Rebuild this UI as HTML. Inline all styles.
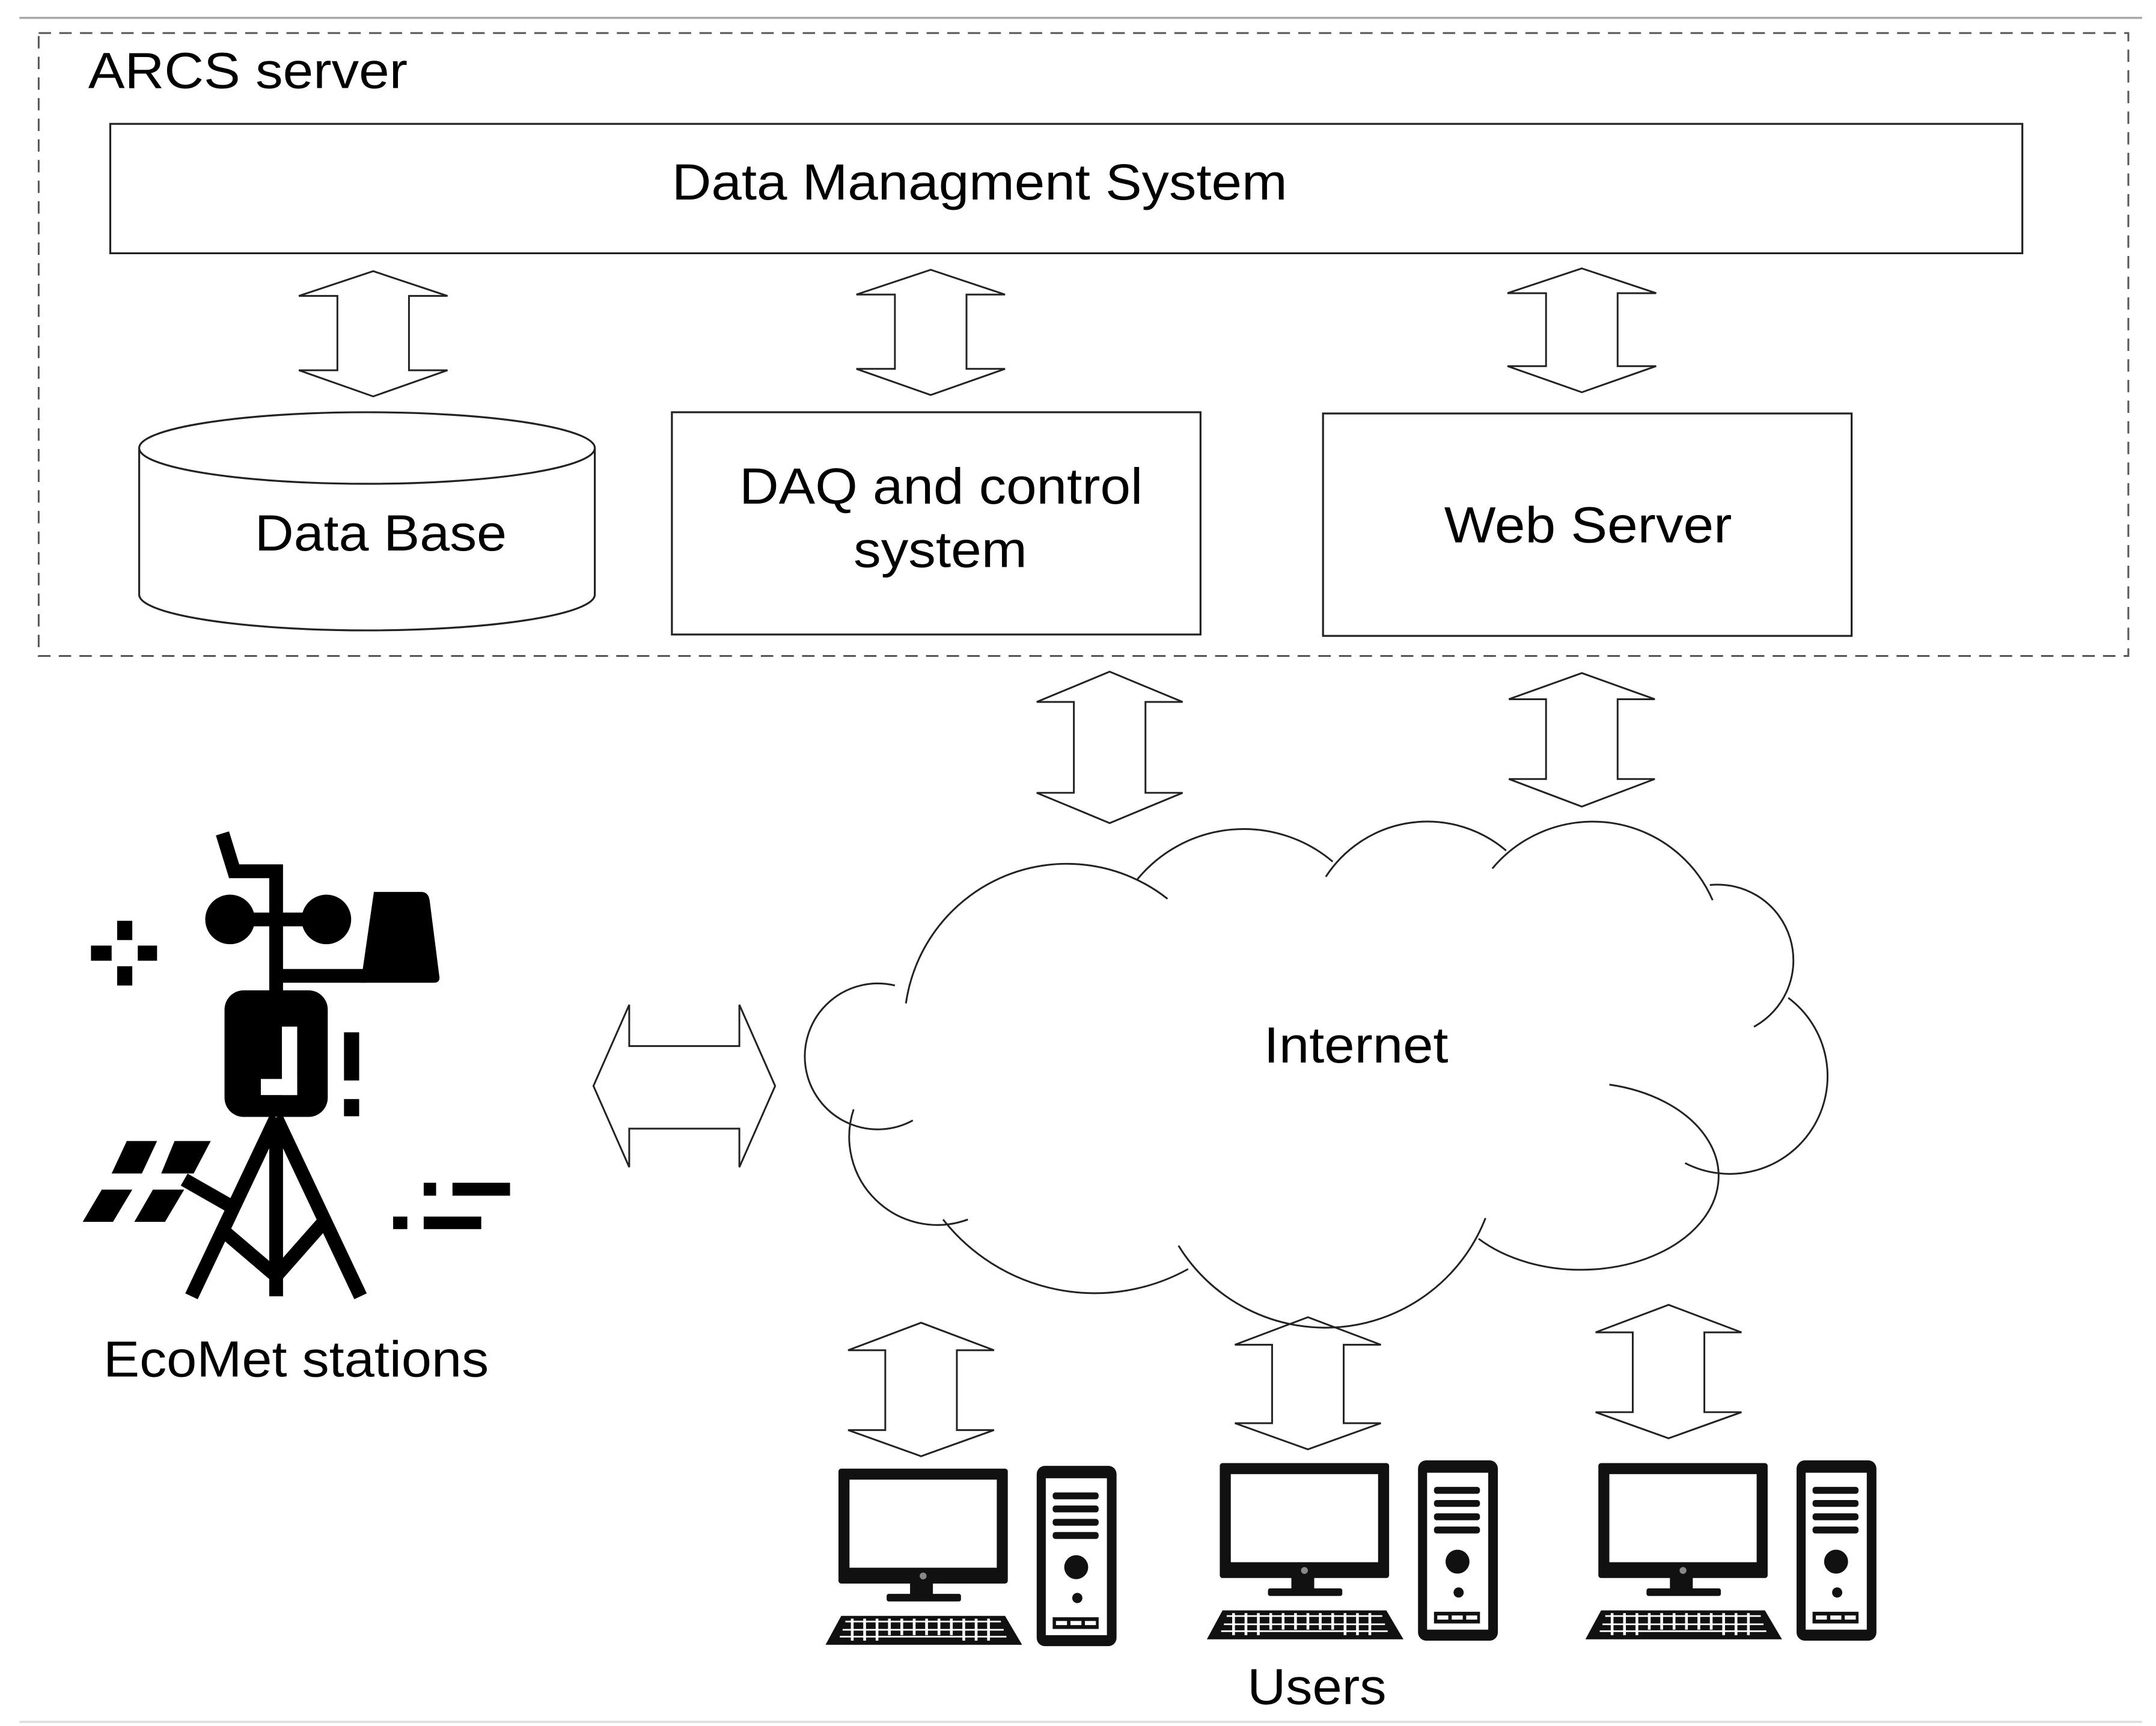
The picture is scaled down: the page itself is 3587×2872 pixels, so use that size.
<!DOCTYPE html>
<html><head><meta charset="utf-8"><style>
html,body{margin:0;padding:0;background:#fff;}
svg{display:block;}
text{font-family:"Liberation Sans",Arial,sans-serif;fill:#000;}
</style></head><body>
<svg width="3587" height="2872" viewBox="0 0 1566 1254" xmlns="http://www.w3.org/2000/svg">
<rect x="0" y="0" width="1566" height="1254" fill="#fff"/>
<line x1="14" y1="13" x2="1556" y2="13" stroke="#aaa" stroke-width="1.5"/>
<line x1="14" y1="1251" x2="1556" y2="1251" stroke="#ddd" stroke-width="1.5"/>
<rect x="28" y="24" width="1518" height="452.6" fill="none" stroke="#555" stroke-width="1.3" stroke-dasharray="9,6"/>
<text x="64" y="64" font-size="37" textLength="232" lengthAdjust="spacingAndGlyphs">ARCS server</text>

<g fill="#fff" stroke="#222" stroke-width="1.4">
<rect x="80" y="90" width="1389" height="94"/>
<rect x="488" y="299.5" width="384" height="161.5"/>
<rect x="961" y="300.4" width="384" height="161.6"/>
<path d="M101,325.5 L101,432 A165.5,26 0 0 0 432,432 L432,325.5"/>
<ellipse cx="266.5" cy="325.5" rx="165.5" ry="26"/>
</g>
<text x="488" y="145" font-size="37" textLength="447" lengthAdjust="spacingAndGlyphs">Data Managment System</text>
<text x="185" y="400" font-size="37" textLength="183" lengthAdjust="spacingAndGlyphs">Data Base</text>
<text x="537" y="366" font-size="37" textLength="293" lengthAdjust="spacingAndGlyphs">DAQ and control</text>
<text x="620" y="412" font-size="37" textLength="126" lengthAdjust="spacingAndGlyphs">system</text>
<text x="1049" y="394" font-size="37" textLength="209" lengthAdjust="spacingAndGlyphs">Web Server</text>

<!-- vertical double arrows -->
<g fill="#fff" stroke="#222" stroke-width="1.3" stroke-linejoin="miter">
<path d="M271,197 L325,215 L297,215 L297,269 L325,269 L271,288 L217,269 L245,269 L245,215 L217,215 Z"/>
<path d="M676,196 L730,214 L702,214 L702,268 L730,268 L676,287 L622,268 L650,268 L650,214 L622,214 Z"/>
<path d="M1149,195 L1203,213 L1175,213 L1175,266 L1203,266 L1149,285 L1095,266 L1123,266 L1123,213 L1095,213 Z"/>
<path d="M806,488 L859,510 L832,510 L832,576 L859,576 L806,598 L753,576 L780,576 L780,510 L753,510 Z"/>
<path d="M1149,489 L1202,508 L1175,508 L1175,566 L1202,566 L1149,586 L1096,566 L1123,566 L1123,508 L1096,508 Z"/>
<path d="M669,961 L722,981 L695,981 L695,1039 L722,1039 L669,1058 L616,1039 L643,1039 L643,981 L616,981 Z"/>
<path d="M950,957 L1003,977 L976,977 L976,1034 L1003,1034 L950,1053 L897,1034 L924,1034 L924,977 L897,977 Z"/>
<path d="M1212,948 L1265,968 L1238,968 L1238,1026 L1265,1026 L1212,1045 L1159,1026 L1186,1026 L1186,968 L1159,968 Z"/>
<path d="M431,789 L457,730 L457,760 L537,760 L537,730 L563,789 L537,848 L537,820 L457,820 L457,848 Z"/>
</g>

<!-- cloud -->
<g fill="none" stroke="#222" stroke-width="1.3">
<path d="M663,814 A53,53 0 1 1 650,716"/>
<path d="M658,729 A118,118 0 0 1 848,653"/>
<path d="M826,639 A100,100 0 0 1 968,626"/>
<path d="M963,637 A88,88 0 0 1 1094,618"/>
<path d="M1084,631 A95,95 0 0 1 1244,654"/>
<path d="M1242,643 A55,55 0 0 1 1274,746"/>
<path d="M1299,725 A71,71 0 0 1 1224,845"/>
<path d="M1169,788 A100,68 0 1 1 1074,900"/>
<path d="M1079,885 A125,125 0 0 1 856,905"/>
<path d="M863,922 A140,140 0 0 1 685,886"/>
<path d="M703,886 A64,64 0 0 1 620,806"/>
</g>
<text x="918" y="772" font-size="37" textLength="134" lengthAdjust="spacingAndGlyphs">Internet</text>

<!-- weather station -->
<g fill="#000">
<rect x="85" y="669" width="11" height="14"/>
<rect x="85" y="702" width="11" height="14"/>
<rect x="66" y="687" width="15" height="11"/>
<rect x="100" y="687" width="14" height="11"/>
<circle cx="167" cy="668" r="18"/>
<circle cx="237" cy="668" r="18"/>
<path d="M271.5,648 L306,648 Q311,648 312,654 L319,709 Q320,714 315,714 L262,714 Z"/>
<rect x="163" y="719.5" width="75" height="92" rx="14"/>
<rect x="249.8" y="750" width="11" height="35"/>
<rect x="249.8" y="798.5" width="11" height="12.5"/>
<path d="M92,829 L114,829 L103,852.6 L81,852.6 Z"/>
<path d="M126.7,829 L153,829 L140.6,852.6 L117,852.6 Z"/>
<path d="M73.8,864.3 L96,864.3 L82,887.7 L60,887.7 Z"/>
<path d="M111,864.3 L133.7,864.3 L119.8,887.7 L97.5,887.7 Z"/>
<rect x="307.7" y="859.3" width="9" height="9.4"/>
<rect x="328.6" y="859.3" width="41.8" height="9.4"/>
<rect x="285.5" y="883.9" width="10.3" height="9.1"/>
<rect x="307.7" y="883.9" width="41.8" height="9.1"/>
</g>
<g fill="#fff">
<rect x="204.7" y="745.9" width="11.1" height="49.7"/>
<rect x="189.4" y="783.9" width="26.4" height="11.7"/>
</g>
<g fill="none" stroke="#000" stroke-width="10">
<polyline points="161.5,605.5 170,633 200.5,633 200.5,722"/>
<line x1="167" y1="668" x2="237" y2="668"/>
<line x1="200" y1="709" x2="265" y2="709"/>
<line x1="200.5" y1="812" x2="139" y2="941.8"/>
<line x1="200.5" y1="812" x2="261.8" y2="941.8"/>
<line x1="200.5" y1="812" x2="200.5" y2="941.8"/>
<polyline points="163,895 200.5,927 234,889"/>
<line x1="133.7" y1="857" x2="167" y2="876"/>
</g>
<text x="75" y="1000" font-size="37" textLength="280" lengthAdjust="spacingAndGlyphs">EcoMet stations</text>

<!-- computers -->
<defs>
<g id="pc">
<rect x="609" y="1067" width="123" height="83.5" fill="#111" rx="2"/>
<rect x="617" y="1075" width="107" height="64" fill="#fff"/>
<circle cx="670.5" cy="1145" r="2.5" fill="#888"/>
<rect x="661" y="1150" width="16.6" height="10" fill="#111"/>
<rect x="644" y="1158" width="54" height="5.5" fill="#111" rx="1.5"/>
<path d="M611,1174 L730,1174 L742.4,1195 L599.6,1195 Z" fill="#111"/>
<g fill="#fff">
<rect x="614" y="1177.5" width="113" height="1.2"/>
<rect x="612" y="1183.5" width="117" height="1.2"/>
<rect x="610" y="1188.5" width="121" height="1.2"/>
<rect x="618" y="1176" width="2" height="16"/><rect x="627" y="1176" width="2" height="16"/>
<rect x="636" y="1176" width="2" height="16"/><rect x="645" y="1176" width="2" height="12"/>
<rect x="654" y="1176" width="2" height="12"/><rect x="663" y="1176" width="2" height="12"/>
<rect x="672" y="1176" width="2" height="12"/><rect x="681" y="1176" width="2" height="12"/>
<rect x="690" y="1176" width="2" height="12"/><rect x="699" y="1176" width="2" height="16"/>
<rect x="708" y="1176" width="2" height="16"/><rect x="717" y="1176" width="2" height="16"/>
</g>
<rect x="753" y="1065" width="58" height="131" rx="6" fill="#111"/>
<rect x="759.6" y="1074" width="44.4" height="114" fill="#fff"/>
<g fill="#111">
<rect x="764.6" y="1084.3" width="33.4" height="5" rx="2"/>
<rect x="764.6" y="1093.8" width="33.4" height="5" rx="2"/>
<rect x="764.6" y="1103.5" width="33.4" height="5" rx="2"/>
<rect x="764.6" y="1113.1" width="33.4" height="5" rx="2"/>
<circle cx="781.7" cy="1138.6" r="8.7"/>
<circle cx="782.5" cy="1161" r="3.7"/>
<rect x="764.6" y="1175" width="33.4" height="8.5"/>
</g>
<g fill="#fff">
<rect x="767" y="1177.7" width="8" height="3"/><rect x="777.5" y="1177.7" width="8" height="3"/><rect x="788" y="1177.7" width="8" height="3"/>
</g>
</g>
</defs>
<use href="#pc"/>
<use href="#pc" transform="translate(277,-4)"/>
<use href="#pc" transform="translate(552,-4)"/>
<text x="906" y="1238" font-size="37" textLength="101" lengthAdjust="spacingAndGlyphs">Users</text>
</svg>
</body></html>
